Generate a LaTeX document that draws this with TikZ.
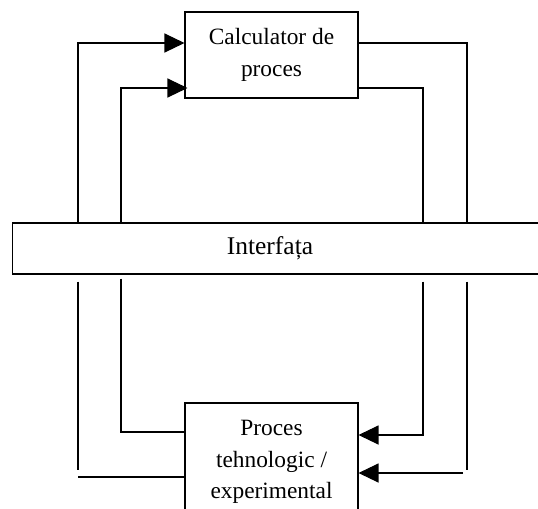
\documentclass[tikz,border=0pt]{standalone}
\usepackage{fontspec}
\setmainfont{Liberation Serif}
\usetikzlibrary{arrows.meta,calc}

\begin{document}
\begin{tikzpicture}[x=0.02cm,y=-0.02cm,line width=0.6pt,
    blocco/.style={draw,align=center,font=\fontsize{13.3}{18}\selectfont},
    freccia/.style={-{Triangle[length=0.4cm,width=0.38cm]}}]
    \useasboundingbox (0,0) rectangle (538,508);

    % Colonne delle linee
    \coordinate (sx1) at (78,0);
    \coordinate (sx2) at (121,0);
    \coordinate (dx2) at (423,0);
    \coordinate (dx1) at (467,0);

    % Calculator de proces
    \node[blocco,minimum width=3.46cm,minimum height=1.72cm] (calc) at (271.5,55) {Calculator de\\proces};

    % Interfata
    \node[draw,minimum width=10.72cm,minimum height=1.02cm] (interf) at (280,248.5) {};
    \node[font=\fontsize{14.5}{18}\selectfont] (testo) at (270,248.5) {Interfața};

    % Proces tehnologic
    \node[blocco,minimum width=3.46cm,minimum height=2.36cm] (proces) at (271.5,462) {Proces\\tehnologic /\\experimental};

    % Sopra: interfata -> calculator
    \draw[freccia] (interf.north -| sx1) |- ($(calc.west)+(0,-12)$);
    \draw[freccia] (interf.north -| sx2) |- ($(calc.west)+(3,33)$);
    % Sopra: calculator -> interfata
    \draw ($(calc.east)+(0,-12)$) -| (interf.north -| dx1);
    \draw ($(calc.east)+(0,33)$) -| (interf.north -| dx2);

    % Sotto: proces -> interfata
    \draw ($(interf.south -| sx2)+(0,4)$) |- ($(proces.west)+(0,-30)$);
    \draw ($(interf.south -| sx1)+(0,7)$) -- ($(proces.west -| sx1)+(0,8)$);
    \draw ($(proces.west -| sx1)+(0,15)$) -- ($(proces.west)+(0,15)$);
    % Sotto: interfata -> proces
    \draw[freccia] ($(interf.south -| dx2)+(0,7)$) |- ($(proces.east)+(0,-27)$);
    \draw ($(interf.south -| dx1)+(0,7)$) -- ($(proces.east -| dx1)+(0,8)$);
    \draw[freccia] ($(proces.east -| dx1)+(-4,11)$) -- ($(proces.east)+(0,11)$);
\end{tikzpicture}
\end{document}
